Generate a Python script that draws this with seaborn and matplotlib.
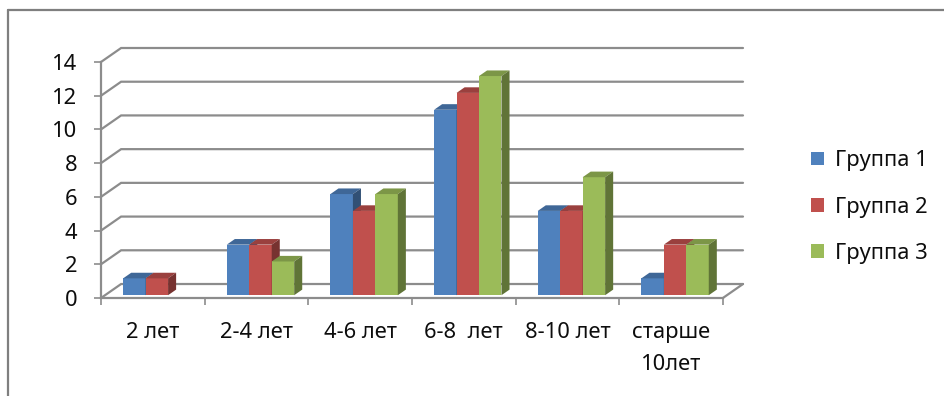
import matplotlib
matplotlib.use("Agg")
import matplotlib.pyplot as plt
from matplotlib.patches import Polygon, Patch
from matplotlib.lines import Line2D
import numpy as np
import pandas as pd
import seaborn as sns

# Data
categories = ["2 лет", "2-4 лет", "4-6 лет", "6-8  лет", "8-10 лет", "старше\n10лет"]
groups = ["Группа 1", "Группа 2", "Группа 3"]
group1 = [1, 3, 6, 11, 5, 1]
group2 = [1, 3, 5, 12, 5, 3]
group3 = [0, 2, 6, 13, 7, 3]
y_ticks = [0, 2, 4, 6, 8, 10, 12, 14]

# Style
colors = ["#4F81BD", "#C0504D", "#9BBB59"]
grid_color = "#8C8C8C"
text_color = "#0D0D0D"
FONT = ["Noto Sans", "DejaVu Sans"]
FS = 15.8
DX, DY = 0.194, 0.83        # depth of the back wall in data units
FRONT, DEPTH = 0.2, 0.4     # bar placement/thickness as fraction of depth

sns.set_style("white")
plt.rcParams["font.family"] = FONT

W, H = 944, 396
fig = plt.figure(figsize=(W / 100, H / 100), dpi=100)
ax = fig.add_axes([101 / W, (H - 298) / H, (743 - 101) / W, (298 - 48) / H])

df = pd.DataFrame({
    "age": categories * 3,
    "group": np.repeat(groups, len(categories)),
    "value": group1 + group2 + group3,
})

sns.barplot(data=df, x="age", y="value", hue="group", order=categories,
            hue_order=groups, palette=colors, width=0.65, saturation=1,
            legend=False, ax=ax, edgecolor="none", linewidth=0)


def shade(c, k):
    r, g, b = matplotlib.colors.to_rgb(c)
    return (r * k, g * k, b * k)


# Turn flat bars into 3-D columns
for hi, container in enumerate(ax.containers):
    for ci, bar in enumerate(container):
        p = ci * 3 + hi
        z = 3 + p * 0.1
        x0 = bar.get_x() + FRONT * DX
        y0 = FRONT * DY
        w = bar.get_width()
        h = bar.get_height()
        bar.set_x(x0)
        bar.set_y(y0)
        bar.set_zorder(z)
        if h <= 0:
            continue
        ddx, ddy = DEPTH * DX, DEPTH * DY
        top = Polygon([(x0, y0 + h), (x0 + w, y0 + h),
                       (x0 + w + ddx, y0 + h + ddy), (x0 + ddx, y0 + h + ddy)],
                      closed=True, facecolor=shade(colors[hi], 0.8),
                      edgecolor="none", zorder=z, clip_on=False)
        side = Polygon([(x0 + w, y0), (x0 + w, y0 + h),
                        (x0 + w + ddx, y0 + h + ddy), (x0 + w + ddx, y0 + ddy)],
                       closed=True, facecolor=shade(colors[hi], 0.62),
                       edgecolor="none", zorder=z, clip_on=False)
        ax.add_patch(top)
        ax.add_patch(side)

n = len(categories)
x_left, x_right = -0.5, n - 0.5

# Back wall gridlines with their diagonal links to the value axis
for v in y_ticks:
    ax.plot([x_left, x_left + DX, x_right + DX], [v, v + DY, v + DY],
            color=grid_color, lw=1.6, zorder=1, clip_on=False,
            solid_joinstyle="miter")
# Floor right edge
ax.plot([x_right, x_right + DX], [0, DY], color=grid_color, lw=1.6,
        zorder=1, clip_on=False)

ax.set_xlim(x_left, x_right + DX)
ax.set_ylim(0, 14 + DY)

for s in ["top", "right"]:
    ax.spines[s].set_visible(False)
ax.spines["left"].set_bounds(0, 14)
ax.spines["bottom"].set_bounds(x_left, x_right)
for s in ["left", "bottom"]:
    ax.spines[s].set_color(grid_color)
    ax.spines[s].set_linewidth(1.6)
    ax.spines[s].set_zorder(2)

ax.set_yticks(y_ticks)
ax.set_yticklabels([str(v) for v in y_ticks], fontsize=FS, family=FONT,
                   color=text_color)
ax.tick_params(axis="y", direction="out", length=5, width=1.2,
               color=grid_color, pad=12, left=True)

ax.set_xticks(np.arange(x_left, x_right + 0.01, 1))
ax.set_xticklabels([])
ax.set_xticks(np.arange(n), minor=True)
ax.set_xticklabels(categories, minor=True, fontsize=FS, family=FONT,
                   color=text_color, linespacing=1.7)
ax.tick_params(axis="x", which="major", direction="out", length=5,
               width=1.2, color=grid_color, bottom=True)
ax.tick_params(axis="x", which="minor", length=0, pad=17)
ax.set_xlabel("")
ax.set_ylabel("")
ax.set_facecolor("none")

handles = [Patch(facecolor=c, edgecolor="none") for c in colors]
fig.legend(handles, groups, loc="center left",
           bbox_to_anchor=(811 / W, (H - 207) / H), frameon=False,
           prop={"family": FONT, "size": FS}, labelcolor=text_color,
           handlelength=0.6, handleheight=0.6, handletextpad=0.5,
           labelspacing=1.15, borderpad=0, borderaxespad=0)

# Chart area frame (top and left edges)
fig.add_artist(Line2D([8 / W, 1], [1 - 10 / H, 1 - 10 / H],
                      color="#7F7F7F", lw=1.6))
fig.add_artist(Line2D([8 / W, 8 / W], [0, 1 - 10 / H],
                      color="#7F7F7F", lw=1.6))

fig.savefig("out.png", dpi=100)
